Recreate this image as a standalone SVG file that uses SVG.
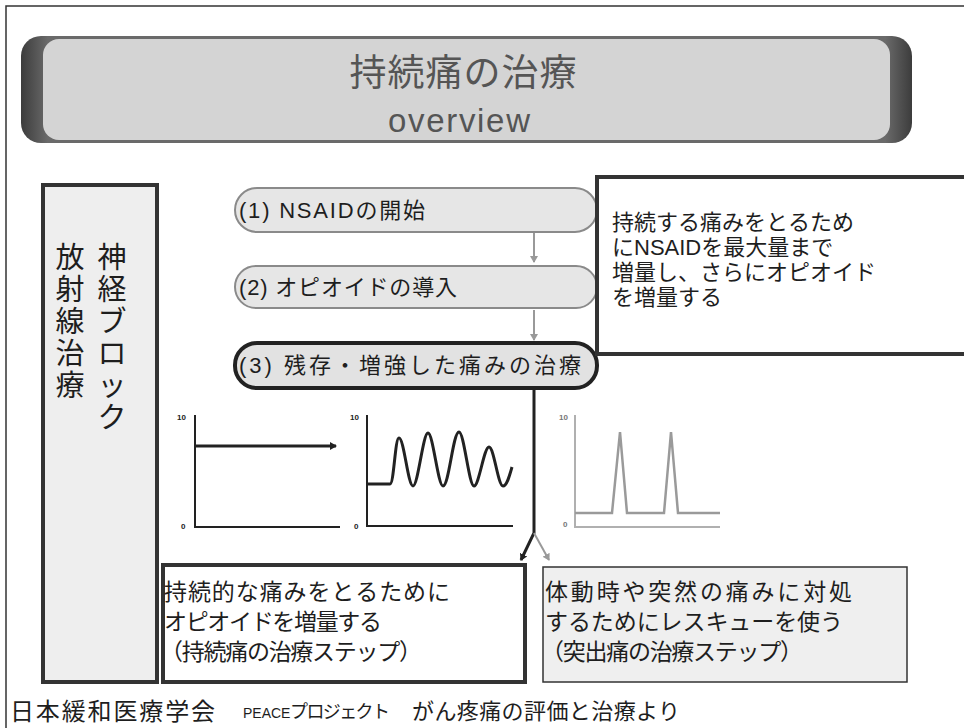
<svg xmlns="http://www.w3.org/2000/svg" width="964" height="728" viewBox="0 0 964 728">
<defs>
<linearGradient id="tg" x1="0" y1="0" x2="1" y2="0">
<stop offset="0" stop-color="#3c3c3c"/><stop offset="0.03" stop-color="#6a6a6a"/><stop offset="0.97" stop-color="#6a6a6a"/><stop offset="1" stop-color="#3c3c3c"/>
</linearGradient>
<marker id="ad" markerWidth="8" markerHeight="8" refX="6" refY="4" orient="auto" markerUnits="userSpaceOnUse"><path d="M0,0 L7,4 L0,8 Z" fill="#222"/></marker>
<marker id="ag" markerWidth="8" markerHeight="8" refX="6" refY="4" orient="auto" markerUnits="userSpaceOnUse"><path d="M0,0 L7,4 L0,8 Z" fill="#999"/></marker>
<style>
.t{font-family:"Liberation Sans","Noto Sans CJK JP",sans-serif;fill:#1e1e1e}
.pill{fill:#e6e6e6;stroke:#8a8a8a;stroke-width:2}
.ax{fill:none;stroke:#222;stroke-width:2}
.axg{fill:none;stroke:#b0b0b0;stroke-width:2}
.lab{font-family:"Liberation Sans",sans-serif;font-size:8px;font-weight:bold;fill:#222}
</style>
</defs>
<rect width="964" height="728" fill="#fff"/>
<path d="M6,728 L6,6 L964,6" fill="none" stroke="#333" stroke-width="1.5"/>

<g id="title">
<rect x="21" y="36" width="891" height="107" rx="20" fill="url(#tg)"/>
<rect x="43" y="39" width="847" height="101" rx="16" fill="#d4d4d4"/>
<text class="t" x="463" y="86" font-size="37" text-anchor="middle" textLength="227" style="fill:#555">持続痛の治療</text>
<text class="t" x="459" y="132" font-size="33" text-anchor="middle" textLength="142" style="fill:#555">overview</text>
</g>

<g id="side">
<rect x="43" y="185" width="114" height="497" fill="#eeeeee" stroke="#333" stroke-width="4"/>
<text class="t" font-size="29" text-anchor="middle"><tspan x="112" y="268">神</tspan><tspan x="112" y="300">経</tspan><tspan x="112" y="332">ブ</tspan><tspan x="112" y="364">ロ</tspan><tspan x="112" y="396">ッ</tspan><tspan x="112" y="428">ク</tspan></text>
<text class="t" font-size="29" text-anchor="middle"><tspan x="70" y="268">放</tspan><tspan x="70" y="300">射</tspan><tspan x="70" y="332">線</tspan><tspan x="70" y="364">治</tspan><tspan x="70" y="396">療</tspan></text>
</g>

<g id="step1">
<rect class="pill" x="235" y="188" width="362" height="44" rx="22"/>
<text class="t" x="239" y="218" font-size="22" textLength="186">(1) NSAIDの開始</text>
</g>
<g id="step2">
<rect class="pill" x="235" y="266" width="362" height="42" rx="21"/>
<text class="t" x="239" y="295" font-size="22" textLength="218">(2) オピオイドの導入</text>
</g>
<g id="step3">
<rect x="235" y="343" width="362" height="45" rx="22" fill="#e2e2e2" stroke="#222" stroke-width="4"/>
<text class="t" x="239" y="373" font-size="22" textLength="342">(3) 残存・増強した痛みの治療</text>
</g>

<g id="note">
<rect x="597" y="177" width="380" height="177" fill="#fff" stroke="#333" stroke-width="4"/>
<text class="t" font-size="22"><tspan x="612" y="230">持続する痛みをとるため</tspan><tspan x="612" y="255">にNSAIDを最大量まで</tspan><tspan x="612" y="280">増量し、さらにオピオイド</tspan><tspan x="612" y="305">を増量する</tspan></text>
</g>

<g id="graph1">
<path class="ax" d="M195,415 V527 H340"/>
<line x1="195" y1="446" x2="336" y2="446" stroke="#222" stroke-width="3" marker-end="url(#ad)"/>
<text class="lab" x="177" y="420">10</text>
<text class="lab" x="181" y="529">0</text>
</g>
<g id="graph2">
<path class="ax" d="M367,415 V526 H513"/>
<path d="M367,484 H390 C394,484 395,438 399,438 C404,438 408,486 413,486 C418,486 423,433 428,433 C433,433 438,486 443,486 C449,486 453,432 459,432 C464,432 469,486 474,486 C479,486 484,447 489,447 C494,447 498,486 503,486 C507,486 510,474 512,467" fill="none" stroke="#222" stroke-width="3"/>
<text class="lab" x="350" y="420">10</text>
<text class="lab" x="354" y="529">0</text>
</g>
<g id="graph3">
<path class="axg" d="M575,415 V527 H720"/>
<polyline points="575,513 612,513 620,432 627,513 664,513 671,432 678,513 720,513" fill="none" stroke="#9a9a9a" stroke-width="2.5"/>
<text class="lab" x="559" y="420" style="fill:#777">10</text>
<text class="lab" x="563" y="527" style="fill:#777">0</text>
</g>

<g id="boxA">
<rect x="163" y="565" width="362" height="117" fill="#fff" stroke="#333" stroke-width="4"/>
<text class="t" font-size="23"><tspan x="164" y="600" textLength="286">持続的な痛みをとるために</tspan><tspan x="164" y="630" textLength="218">オピオイドを増量する</tspan><tspan x="160" y="660" textLength="262">（持続痛の治療ステップ）</tspan></text>
</g>
<g id="boxB">
<rect x="543" y="567" width="364" height="115" fill="#efefef" stroke="#333" stroke-width="1.5"/>
<text class="t" font-size="23"><tspan x="545" y="600" textLength="307">体動時や突然の痛みに対処</tspan><tspan x="545" y="630" textLength="298">するためにレスキューを使う</tspan><tspan x="541" y="660" textLength="262">（突出痛の治療ステップ）</tspan></text>
</g>

<g id="connectors">
<line x1="534" y1="233" x2="534" y2="262" stroke="#999" stroke-width="2" marker-end="url(#ag)"/>
<line x1="534" y1="310" x2="534" y2="340" stroke="#999" stroke-width="2" marker-end="url(#ag)"/>
<path d="M534,390 V533 L521,560" fill="none" stroke="#222" stroke-width="3" marker-end="url(#ad)"/>
<path d="M534,533 L549,560" fill="none" stroke="#999" stroke-width="2" marker-end="url(#ag)"/>
</g>

<g id="footer">
<text class="t" x="10" y="720" font-size="24" textLength="205">日本緩和医療学会</text>
<text class="t" x="243" y="718" font-size="14">PEACE</text>
<text class="t" x="290" y="718" font-size="18" textLength="100">プロジェクト</text>
<text class="t" x="412" y="719" font-size="22" textLength="268">がん疼痛の評価と治療より</text>
</g>
</svg>
